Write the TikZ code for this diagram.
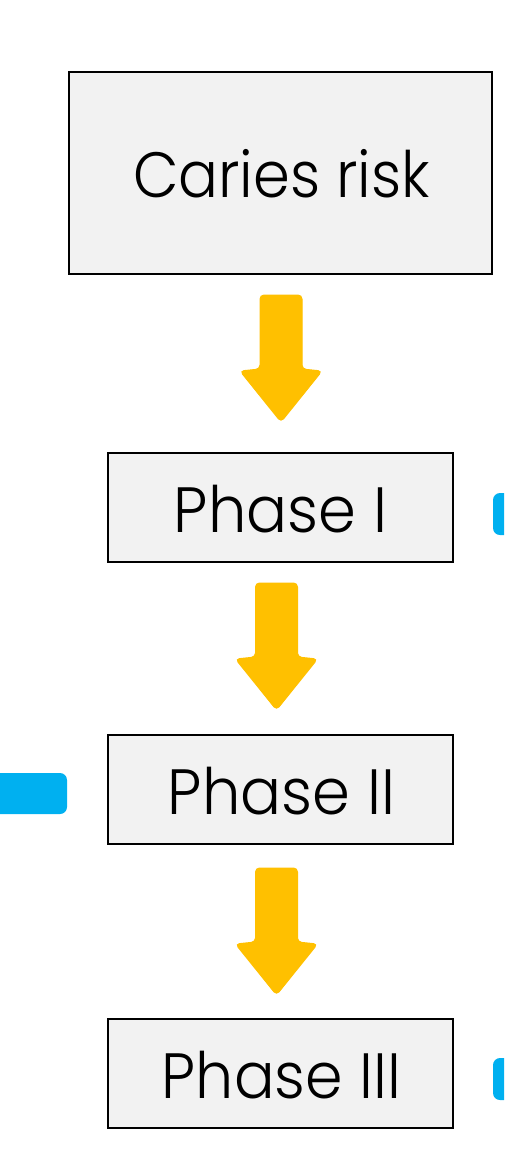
\documentclass[tikz,border=0pt]{standalone}
\usepackage{fontspec}
\setmainfont{Poppins Light}
\usepackage{graphicx}
\definecolor{boxfill}{HTML}{F2F2F2}
\definecolor{arrowgold}{HTML}{FFC000}
\definecolor{markblue}{HTML}{00B0F0}
\tikzset{
  x=1pt, y=-1pt,
  stagebox/.style={draw=black, line width=1.2pt, fill=boxfill, inner sep=0pt},
  stagetext/.style={anchor=base, inner sep=0pt, font=\fontsize{64}{70}\selectfont},
  goldarrow/.style={fill=arrowgold, draw=arrowgold, line width=1pt, rounded corners=4pt},
  bluemark/.style={fill=markblue, rounded corners=7pt},
  pics/bigarrow/.style={code={
    \path[goldarrow] (-21,0) -- (21,0) -- (21,74) -- (41,76) -- (0,127) -- (-41,76) -- (-21,74) -- cycle;
  }}
}
\begin{document}
\begin{tikzpicture}
\useasboundingbox (0,0) rectangle (504,1154);
\clip (0,0) rectangle (504,1154);
\fill[white] (0,0) rectangle (504,1154);
% boxes
\node[stagebox, minimum width=423pt, minimum height=202pt] (risk) at (280.5,173) {};
\node[stagebox, minimum width=345pt, minimum height=109pt] (p1) at (280.5,507.5) {};
\node[stagebox, minimum width=345pt, minimum height=109pt] (p2) at (280.5,789.5) {};
\node[stagebox, minimum width=345pt, minimum height=109pt] (p3) at (280.5,1073.5) {};
% texts
\node[stagetext] (trisk) at (281.5,197) {\resizebox{297pt}{\height}{Caries risk}};
\node[stagetext] (tp1) at (280.5,532) {\resizebox{213pt}{\height}{Phase I}};
\node[stagetext] (tp2) at (281.5,814) {\resizebox{227pt}{\height}{Phase II}};
\node[stagetext] (tp3) at (281.5,1098) {\resizebox{239pt}{\height}{Phase III}};
% arrows
\pic at (281,295) {bigarrow};
\pic at (276.5,583) {bigarrow};
\pic at (276.5,868) {bigarrow};
% blue marks
\path[bluemark] (493,493) rectangle (515,535);
\path[bluemark] (-12,773) rectangle (67,814);
\path[bluemark] (493,1058) rectangle (515,1100);
\end{tikzpicture}
\end{document}
